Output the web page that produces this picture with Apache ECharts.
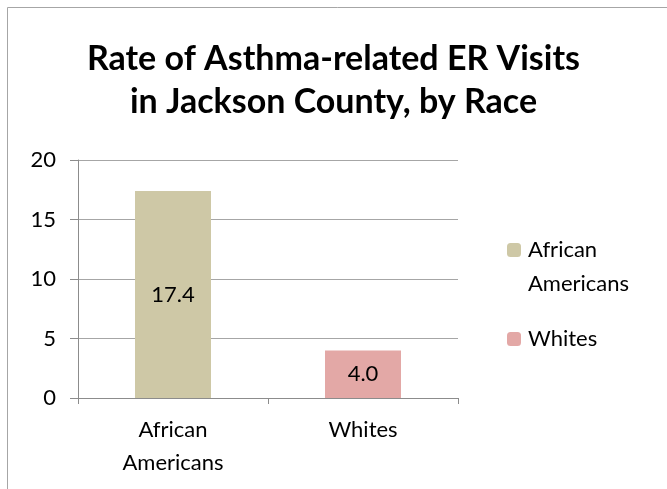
<!DOCTYPE html>
<html>
<head>
<meta charset="utf-8">
<script src="https://cdn.jsdelivr.net/npm/echarts@6/dist/echarts.min.js"></script>
<style>
  html, body { margin: 0; padding: 0; background: #fff; }
  #chart { width: 667px; height: 489px; }
</style>
</head>
<body>
<div id="chart"></div>
<script>
  const categories = ['African\nAmericans', 'Whites'];
  const seriesNames = ['African Americans', 'Whites'];
  const africanAmericans = [17.4, '-'];
  const whites = ['-', 4.0];
  const yTicks = [0, 5, 10, 15, 20];

  const font = 'Lato';
  const chart = echarts.init(document.getElementById('chart'));

  chart.setOption({
    animation: false,
    title: {
      text: 'Rate of Asthma-related ER Visits\nin Jackson County, by Race',
      left: 'center',
      top: 38,
      padding: 0,
      textStyle: { fontFamily: font, fontSize: 34, fontWeight: 'bold', color: '#000', lineHeight: 43 }
    },
    graphic: [{
      type: 'rect',
      shape: { x: 7.5, y: 7.5, width: 700, height: 600 },
      style: { fill: 'none', stroke: '#a6a6a6', lineWidth: 1 },
      silent: true
    }],
    legend: [{
      data: [seriesNames[0]],
      orient: 'vertical',
      left: 507,
      top: 199,
      padding: 0,
      itemWidth: 14,
      itemHeight: 14,
      formatter: () => ' \nAfrican\nAmericans',
      textStyle: { fontFamily: font, fontSize: 22, color: '#000', lineHeight: 34, padding: [0, 0, 0, 2] }
    }, {
      data: [seriesNames[1]],
      orient: 'vertical',
      left: 507,
      top: 322,
      padding: 0,
      itemWidth: 14,
      itemHeight: 14,
      textStyle: { fontFamily: font, fontSize: 22, color: '#000', lineHeight: 34, padding: [0, 0, 0, 2] }
    }],
    grid: { left: 78, right: 209, top: 160, bottom: 91 },
    xAxis: {
      type: 'category',
      data: categories,
      axisLine: { lineStyle: { color: '#8c8c8c' } },
      axisTick: { show: true, length: 6, lineStyle: { color: '#8c8c8c' } },
      axisLabel: { fontFamily: font, fontSize: 22, color: '#000', lineHeight: 33, margin: 15 }
    },
    yAxis: {
      type: 'value',
      min: yTicks[0],
      max: yTicks[yTicks.length - 1],
      interval: yTicks[1] - yTicks[0],
      axisLine: { show: true, lineStyle: { color: '#8c8c8c' } },
      axisTick: { show: true, length: 8, lineStyle: { color: '#8c8c8c' } },
      splitLine: { lineStyle: { color: '#a6a6a6' } },
      axisLabel: { fontFamily: font, fontSize: 22, color: '#000', margin: 22 }
    },
    series: [{
      name: seriesNames[0],
      type: 'bar',
      stack: 'rate',
      barWidth: 76,
      data: africanAmericans,
      itemStyle: { color: '#cec8a6' },
      label: { show: true, position: 'inside', fontFamily: font, fontSize: 22, color: '#000',
        formatter: p => p.value.toFixed(1) }
    }, {
      name: seriesNames[1],
      type: 'bar',
      stack: 'rate',
      barWidth: 76,
      data: whites,
      itemStyle: { color: '#e3a8a6' },
      label: { show: true, position: 'inside', fontFamily: font, fontSize: 22, color: '#000',
        formatter: p => p.value.toFixed(1) }
    }]
  });
</script>
</body>
</html>
